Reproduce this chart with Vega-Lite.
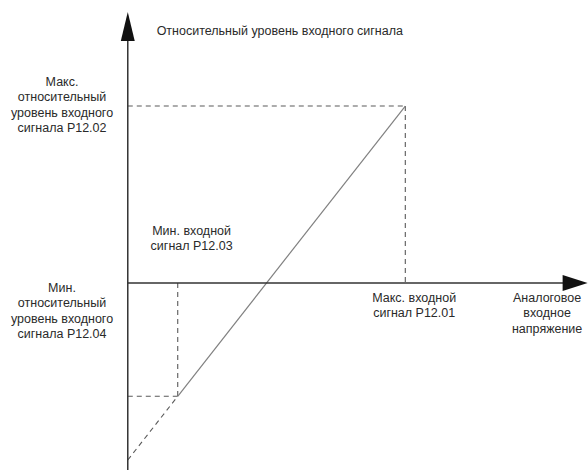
{
  "$schema": "https://vega.github.io/schema/vega-lite/v6.json",
  "width": 588,
  "height": 475,
  "padding": 0,
  "autosize": {"type": "fit", "contains": "padding"},
  "background": "white",
  "config": {"view": {"stroke": null}},
  "datasets": {
    "axes": [
      {"x": 0, "y": -105.6, "x2": 0, "y2": 137},
      {"x": 0, "y": 0, "x2": 15.75, "y2": 0}
    ],
    "dashed": [
      {"x": 0, "y": 100, "x2": 10, "y2": 100},
      {"x": 10, "y": 100, "x2": 10, "y2": 0},
      {"x": 1.8, "y": 0, "x2": 1.8, "y2": -64},
      {"x": 0, "y": -64, "x2": 1.8, "y2": -64},
      {"x": 0, "y": -100, "x2": 1.8, "y2": -64}
    ],
    "solid": [
      {"x": 1.8, "y": -64, "x2": 10, "y2": 100}
    ],
    "arrows": [
      {"x": 0, "y": 144.9, "dir": "up"},
      {"x": 16.12, "y": 0, "dir": "right"}
    ],
    "title": [
      {"x": 1.04, "y": 142.4, "text": "Относительный уровень входного сигнала"}
    ],
    "labels": [
      {"x": -2.37, "y": 113.6, "text": "Макс.\nотносительный\nуровень входного\nсигнала P12.02"},
      {"x": 2.3, "y": 29.4, "text": "Мин. входной\nсигнал P12.03"},
      {"x": -2.37, "y": -2.8, "text": "Мин.\nотносительный\nуровень входного\nсигнала P12.04"},
      {"x": 10.32, "y": -8.5, "text": "Макс. входной\nсигнал P12.01"},
      {"x": 15.11, "y": -8.5, "text": "Аналоговое\nвходное\nнапряжение"}
    ]
  },
  "layer": [
    {
      "data": {"name": "dashed"},
      "mark": {"type": "rule", "color": "#5a5a5a", "strokeWidth": 1.1, "strokeDash": [5, 4]},
      "encoding": {
        "x": {"field": "x", "type": "quantitative", "scale": {"domain": [-4.604, 16.547], "nice": false, "zero": false}, "axis": null},
        "y": {"field": "y", "type": "quantitative", "scale": {"domain": [-108.47, 159.89], "nice": false, "zero": false}, "axis": null},
        "x2": {"field": "x2"},
        "y2": {"field": "y2"}
      }
    },
    {
      "data": {"name": "solid"},
      "mark": {"type": "rule", "color": "#808080", "strokeWidth": 1.2},
      "encoding": {
        "x": {"field": "x", "type": "quantitative"},
        "y": {"field": "y", "type": "quantitative"},
        "x2": {"field": "x2"},
        "y2": {"field": "y2"}
      }
    },
    {
      "data": {"name": "axes"},
      "mark": {"type": "rule", "color": "#333333", "strokeWidth": 1.5},
      "encoding": {
        "x": {"field": "x", "type": "quantitative"},
        "y": {"field": "y", "type": "quantitative"},
        "x2": {"field": "x2"},
        "y2": {"field": "y2"}
      }
    },
    {
      "data": {"name": "arrows"},
      "transform": [{"filter": "datum.dir === 'up'"}],
      "mark": {"type": "point", "shape": "M0,-1L-0.48,1L0.48,1Z", "filled": true, "color": "#111111", "size": 841, "opacity": 1},
      "encoding": {
        "x": {"field": "x", "type": "quantitative"},
        "y": {"field": "y", "type": "quantitative"}
      }
    },
    {
      "data": {"name": "arrows"},
      "transform": [{"filter": "datum.dir === 'right'"}],
      "mark": {"type": "point", "shape": "M1,0L-1,-0.64L-1,0.64Z", "filled": true, "color": "#111111", "size": 625, "opacity": 1},
      "encoding": {
        "x": {"field": "x", "type": "quantitative"},
        "y": {"field": "y", "type": "quantitative"}
      }
    },
    {
      "data": {"name": "title"},
      "mark": {"type": "text", "font": "Liberation Sans", "fontSize": 12.5, "color": "#2a2a2a", "align": "left", "baseline": "middle"},
      "encoding": {
        "x": {"field": "x", "type": "quantitative"},
        "y": {"field": "y", "type": "quantitative"},
        "text": {"field": "text"}
      }
    },
    {
      "data": {"name": "labels"},
      "mark": {"type": "text", "font": "Liberation Sans", "fontSize": 12.5, "color": "#2a2a2a", "lineBreak": "\n", "lineHeight": 15.4, "align": "center", "baseline": "middle"},
      "encoding": {
        "x": {"field": "x", "type": "quantitative"},
        "y": {"field": "y", "type": "quantitative"},
        "text": {"field": "text"}
      }
    }
  ]
}
